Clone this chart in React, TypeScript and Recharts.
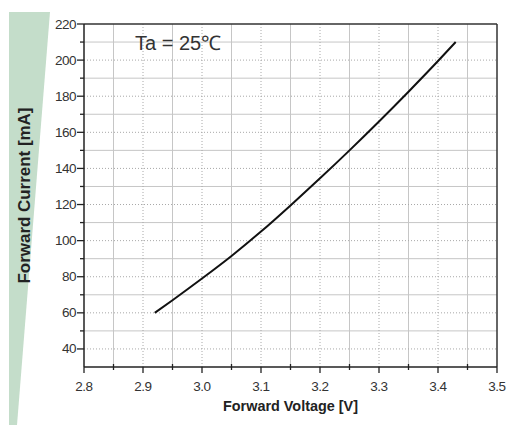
import React from "react";
import { LineChart, Line, XAxis, YAxis, ReferenceLine } from "recharts";

const VOLTAGE = [2.92, 2.95, 3.0, 3.05, 3.1, 3.15, 3.2, 3.25, 3.3, 3.35, 3.4, 3.43];
const CURRENT = [60, 67, 79, 91.5, 105, 119.5, 134.5, 150, 166, 182.5, 199.5, 210];

const X_MAJOR = [2.8, 2.9, 3.0, 3.1, 3.2, 3.3, 3.4, 3.5];
const X_MINOR = [2.85, 2.95, 3.05, 3.15, 3.25, 3.35, 3.45];
const Y_MAJOR = [40, 60, 80, 100, 120, 140, 160, 180, 200, 220];
const Y_MINOR = [50, 70, 90, 110, 130, 150, 170, 190, 210];
const X_DOMAIN = [2.8, 3.5];
const Y_DOMAIN = [30, 220];

const X_LABEL = "Forward Voltage [V]";
const Y_LABEL = "Forward Current [mA]";
const NOTE = "Ta = 25\u2103";

const data = VOLTAGE.map((v, k) => ({ v, i: CURRENT[k] }));
const X_TICKS = [...X_MAJOR, ...X_MINOR].sort((a, b) => a - b);
const Y_TICKS = [...Y_MAJOR, ...Y_MINOR].sort((a, b) => a - b);

const FONT = "'Liberation Sans', Arial, sans-serif";

const XTick = (props: any) => {
  const { x, y, payload } = props;
  const major = X_MAJOR.includes(payload.value);
  return (
    <g>
      <line x1={x} x2={x} y1={y - (major ? 0 : 3)} y2={y + (major ? 6 : 3)} stroke="#222" strokeWidth={1.3} />
      {major && (
        <text x={x} y={y + 24} textAnchor="middle" fontSize={13.5} fontFamily={FONT} fill="#333" letterSpacing={-0.5}>
          {payload.value.toFixed(1)}
        </text>
      )}
    </g>
  );
};

const YTick = (props: any) => {
  const { x, y, payload } = props;
  const major = Y_MAJOR.includes(payload.value);
  return (
    <g>
      <line x1={x} x2={x - (major ? 7 : 4)} y1={y} y2={y} stroke="#222" strokeWidth={1.3} />
      {major && (
        <text x={x - 8} y={y + 4.5} textAnchor="end" fontSize={13.5} fontFamily={FONT} fill="#333" letterSpacing={-0.5}>
          {payload.value}
        </text>
      )}
    </g>
  );
};

const XLabel = (props: any) => {
  const vb = props.viewBox || {};
  return (
    <text x={vb.x + vb.width / 2} y={vb.y + 44} textAnchor="middle" fontSize={14} fontWeight="bold" fontFamily={FONT} fill="#222" textLength={135} lengthAdjust="spacingAndGlyphs">
      {X_LABEL}
    </text>
  );
};

const YLabel = (props: any) => {
  const vb = props.viewBox || {};
  const cx = vb.x + 30;
  const cy = vb.y + vb.height / 2;
  return (
    <text x={cx} y={cy} transform={`rotate(-90 ${cx} ${cy})`} textAnchor="middle" fontSize={16} fontWeight="bold" fontFamily={FONT} fill="#222" textLength={176} lengthAdjust="spacingAndGlyphs">
      {Y_LABEL}
    </text>
  );
};

export default function App() {
  return (
    <div style={{ position: "fixed", left: 0, top: 0, width: 507, height: 425, background: "#fff", overflow: "visible" }}>
      <style>{`html, body { margin: 0; padding: 0; overflow: hidden; } .recharts-surface { overflow: visible; } .recharts-wrapper { overflow: visible !important; }`}</style>
      <svg width={507} height={425} style={{ position: "absolute", left: 0, top: 0 }}>
        <polygon points="9,12 50,12 17,425 9,425" fill="#c4ddca" />
      </svg>
      <div style={{ position: "absolute", left: 0, top: 0 }}>
        <LineChart width={507} height={425} data={data} margin={{ top: 24, right: 10, bottom: 0, left: 0 }}>
          {X_MINOR.map((v) => (
            <ReferenceLine key={"xm" + v} x={v} stroke="#c6c6c6" strokeWidth={1} />
          ))}
          {Y_MINOR.map((v) => (
            <ReferenceLine key={"ym" + v} y={v} stroke="#c6c6c6" strokeWidth={1} />
          ))}
          {X_MAJOR.filter((v) => v !== X_DOMAIN[0] && v !== X_DOMAIN[1]).map((v) => (
            <ReferenceLine key={"xM" + v} x={v} stroke="#a8a8a8" strokeWidth={1} strokeDasharray="1 2" />
          ))}
          {Y_MAJOR.filter((v) => v !== Y_DOMAIN[1]).map((v) => (
            <ReferenceLine key={"yM" + v} y={v} stroke="#a8a8a8" strokeWidth={1} strokeDasharray="1 2" />
          ))}
          <ReferenceLine y={Y_DOMAIN[1]} stroke="#333" strokeWidth={1.5} />
          <ReferenceLine x={X_DOMAIN[1]} stroke="#333" strokeWidth={1.5} />
          <XAxis
            dataKey="v"
            type="number"
            domain={X_DOMAIN}
            ticks={X_TICKS}
            interval={0}
            height={58}
            tickSize={0}
            tickMargin={0}
            tickLine={false}
            axisLine={{ stroke: "#222", strokeWidth: 1.5 }}
            tick={<XTick />}
            allowDataOverflow
            label={{ content: <XLabel /> }}
          />
          <YAxis
            type="number"
            domain={Y_DOMAIN}
            ticks={Y_TICKS}
            interval={0}
            width={84}
            tickSize={0}
            tickMargin={0}
            tickLine={false}
            axisLine={{ stroke: "#222", strokeWidth: 1.5 }}
            tick={<YTick />}
            allowDataOverflow
            label={{ content: <YLabel /> }}
          />
          <Line dataKey="i" type="monotone" stroke="#111" strokeWidth={2} dot={false} isAnimationActive={false} />
        </LineChart>
      </div>
      <div style={{ position: "absolute", left: 135, top: 32, fontFamily: FONT, fontSize: 20, color: "#333", whiteSpace: "nowrap", lineHeight: "22px" }}>
        {NOTE}
      </div>
    </div>
  );
}
